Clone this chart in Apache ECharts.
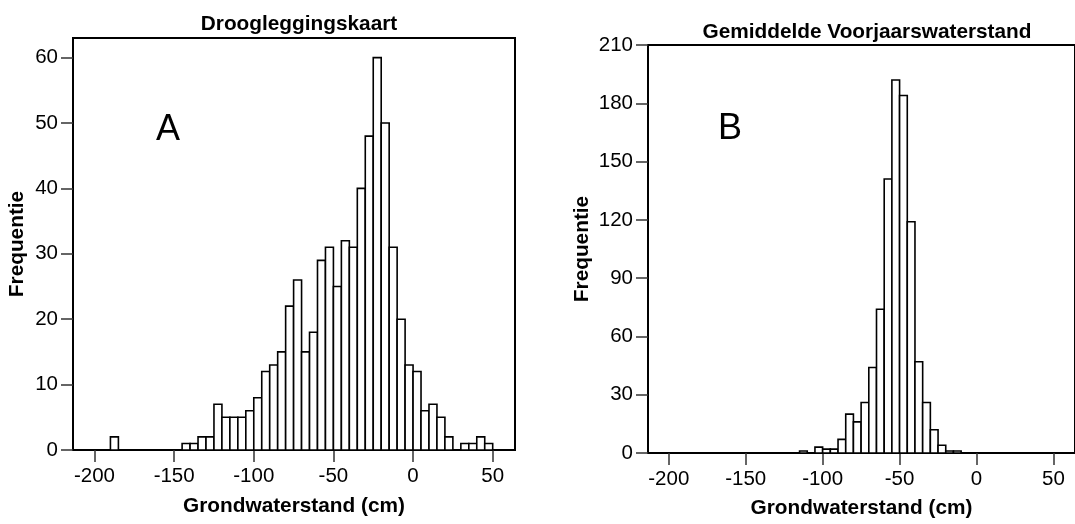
<!DOCTYPE html>
<html>
<head>
<meta charset="utf-8">
<script src="https://cdn.jsdelivr.net/npm/echarts@6/dist/echarts.min.js"></script>
<style>
html, body { margin: 0; padding: 0; background: #fff; }
#main { width: 1075px; height: 524px; }
</style>
</head>
<body>
<div id="main"></div>
<script>
// histogram bins: start of each bin in cm, every bin is 5 cm wide
var binWidth = 5;

// A - Droogleggingskaart
var binsA = [-190, -145, -140, -135, -130, -125, -120, -115, -110, -105, -100, -95, -90, -85, -80,
             -75, -70, -65, -60, -55, -50, -45, -40, -35, -30, -25, -20, -15, -10, -5,
             0, 5, 10, 15, 20, 30, 35, 40, 45];
var countsA = [2, 1, 1, 2, 2, 7, 5, 5, 5, 6, 8, 12, 13, 15, 22,
               26, 15, 18, 29, 31, 25, 32, 31, 40, 48, 60, 50, 31, 20, 13,
               12, 6, 7, 5, 2, 1, 1, 2, 1];

// B - Gemiddelde Voorjaarswaterstand
var binsB = [-115, -105, -100, -95, -90, -85, -80, -75, -70, -65, -60, -55, -50,
             -45, -40, -35, -30, -25, -20, -15];
var countsB = [1, 3, 2, 2, 7, 20, 16, 26, 44, 74, 141, 192, 184,
               119, 47, 26, 12, 4, 1, 1];

var xTicks = [-200, -150, -100, -50, 0, 50];
var yTicksA = [0, 10, 20, 30, 40, 50, 60];
var yTicksB = [0, 30, 60, 90, 120, 150, 180, 210];

var font = '"Liberation Sans", Arial, sans-serif';

function toBars(bins, counts) {
  return bins.map(function (s, i) { return [s, s + binWidth, counts[i]]; });
}

function histRect(params, api) {
  var p0 = api.coord([api.value(0), api.value(2)]);
  var p1 = api.coord([api.value(1), 0]);
  return {
    type: 'rect',
    shape: { x: p0[0], y: p0[1], width: p1[0] - p0[0], height: p1[1] - p0[1] },
    style: { fill: '#fff', stroke: '#000', lineWidth: 1.6 }
  };
}

function xAxis(idx, gap) {
  return {
    gridIndex: idx, type: 'value', min: -213.5, max: 64,
    name: 'Grondwaterstand (cm)', nameLocation: 'middle', nameGap: gap,
    nameTextStyle: { fontFamily: font, fontWeight: 'bold', fontSize: 20.8, color: '#000' },
    axisLine: { show: true, onZero: false, lineStyle: { color: '#000', width: 2 } },
    axisTick: { show: true, length: 12, customValues: xTicks, lineStyle: { color: '#333', width: 1.5 } },
    axisLabel: { customValues: xTicks, fontFamily: font, fontSize: 20.5, color: '#000', margin: 16 },
    splitLine: { show: false }
  };
}

function yAxis(idx, max, ticks, gap) {
  return {
    gridIndex: idx, type: 'value', min: 0, max: max,
    name: 'Frequentie', nameLocation: 'middle', nameGap: gap,
    nameTextStyle: { fontFamily: font, fontWeight: 'bold', fontSize: 20.8, color: '#000' },
    axisLine: { show: true, onZero: false, lineStyle: { color: '#000', width: 2 } },
    axisTick: { show: true, length: 12, customValues: ticks, lineStyle: { color: '#333', width: 1.5 } },
    axisLabel: { customValues: ticks, fontFamily: font, fontSize: 20.5, color: '#000', margin: 15 },
    splitLine: { show: false }
  };
}

var chart = echarts.init(document.getElementById('main'));

var option = {
  backgroundColor: '#fff',
  animation: false,
  title: [
    { text: 'Droogleggingskaart', left: 294, top: 9, textAlign: 'center',
      textStyle: { fontFamily: font, fontWeight: 'bold', fontSize: 20.8, color: '#000' } },
    { text: 'Gemiddelde Voorjaarswaterstand', left: 862, top: 17, textAlign: 'center',
      textStyle: { fontFamily: font, fontWeight: 'bold', fontSize: 20.8, color: '#000' } },
    { text: 'A', left: 163, top: 107, textAlign: 'center',
      textStyle: { fontFamily: font, fontWeight: 'normal', fontSize: 36, color: '#000' } },
    { text: 'B', left: 725, top: 106, textAlign: 'center',
      textStyle: { fontFamily: font, fontWeight: 'normal', fontSize: 36, color: '#000' } }
  ],
  grid: [
    { left: 73, top: 38, width: 442, height: 412, show: true, borderColor: '#000', borderWidth: 2 },
    { left: 648, top: 45, width: 429, height: 413, show: true, borderColor: '#000', borderWidth: 2 }
  ],
  xAxis: [xAxis(0, 46), xAxis(1, 45)],
  yAxis: [yAxis(0, 63, yTicksA, 45), yAxis(1, 210, yTicksB, 55)],
  series: [
    { type: 'custom', xAxisIndex: 0, yAxisIndex: 0, renderItem: histRect,
      encode: { x: [0, 1], y: 2 }, data: toBars(binsA, countsA) },
    { type: 'custom', xAxisIndex: 1, yAxisIndex: 1, renderItem: histRect,
      encode: { x: [0, 1], y: 2 }, data: toBars(binsB, countsB) }
  ]
};

chart.setOption(option);
</script>
</body>
</html>
